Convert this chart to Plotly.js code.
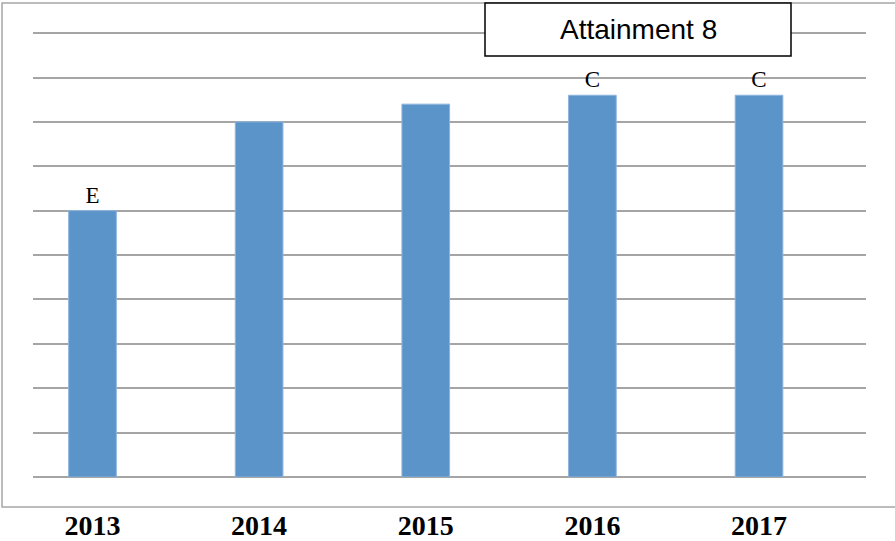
<!DOCTYPE html>
<html>
<head>
<meta charset="utf-8">
<script src="https://cdn.plot.ly/plotly-3.0.1.min.js"></script>
<style>html,body{margin:0;padding:0;background:#fff;}#chart{width:895px;height:541px;}</style>
</head>
<body>
<div id="chart"></div>
<script>
const years = ['2013', '2014', '2015', '2016', '2017'];
const scores = [6.0, 8.0, 8.4, 8.6, 8.6];
const grades = ['E', '', '', 'C', 'C'];
const chartTitle = 'Attainment 8';

const trace = {
  type: 'bar',
  x: years,
  y: scores,
  text: grades,
  textposition: 'outside',
  cliponaxis: false,
  textfont: {family: 'Liberation Serif, DejaVu Serif, serif', size: 23, color: '#000'},
  marker: {color: '#5B94C9', line: {color: '#8FB4DD', width: 1}},
  hoverinfo: 'none'
};

// plot area: top at y=30, bottom at y=477 (447 px), value 10 gridline at ~y=34
const layout = {
  width: 895, height: 541,
  margin: {l: 33, r: 29, t: 30, b: 64},
  paper_bgcolor: '#fff', plot_bgcolor: '#fff',
  bargap: 0.714,
  showlegend: false,
  xaxis: {
    type: 'category',
    range: [-0.357, 4.642],
    showgrid: false, zeroline: false, showline: false, ticks: '',
    tickfont: {family: 'Liberation Serif, DejaVu Serif, serif', size: 28, color: '#000', weight: 'bold'},
    ticklabelstandoff: 29
  },
  yaxis: {
    range: [0, 10.07],
    dtick: 1, tick0: 0,
    showgrid: true, gridcolor: '#A5A5A5', gridwidth: 2,
    zeroline: true, zerolinecolor: '#A5A5A5', zerolinewidth: 2,
    showticklabels: false, ticks: '', showline: false
  },
  shapes: [
    {type: 'rect', xref: 'paper', yref: 'paper', x0: -0.0372, x1: 1.2, y0: (477 - 507) / 447, y1: (477 - 3) / 447,
     line: {color: '#A6A6A6', width: 1.5}, fillcolor: 'rgba(0,0,0,0)', layer: 'below'},
    {type: 'rect', xref: 'paper', yref: 'paper', x0: (485 - 33) / 833, x1: (791 - 33) / 833,
     y0: (477 - 56) / 447, y1: (477 - 3) / 447,
     line: {color: '#000', width: 1.5}, fillcolor: '#fff', layer: 'above'}
  ],
  annotations: [
    {xref: 'paper', yref: 'paper', x: (638 - 33) / 833, y: (477 - 29.5) / 447,
     xanchor: 'center', yanchor: 'middle', showarrow: false, text: chartTitle,
     font: {family: 'Liberation Sans, Arial, sans-serif', size: 28, color: '#000'}}
  ]
};

Plotly.newPlot('chart', [trace], layout, {displayModeBar: false, staticPlot: true});
</script>
</body>
</html>
